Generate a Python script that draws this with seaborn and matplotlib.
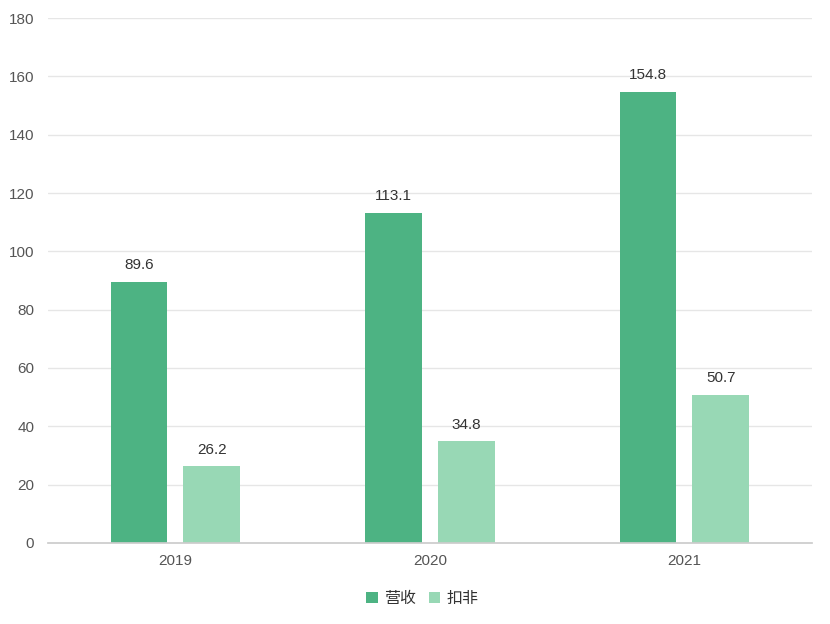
import matplotlib
matplotlib.use('Agg')
import matplotlib.pyplot as plt
import seaborn as sns
import pandas as pd

years = ['2019', '2020', '2021']
revenue = [89.6, 113.1, 154.8]
deducted = [26.2, 34.8, 50.7]
series_names = ['营收', '扣非']

df = pd.DataFrame({
    'year': years * 2,
    'value': revenue + deducted,
    'series': [series_names[0]] * 3 + [series_names[1]] * 3,
})

sns.set_theme(style='white')
plt.rcParams['font.family'] = ['Liberation Sans', 'Noto Sans CJK SC', 'DejaVu Sans']

fig = plt.figure(figsize=(8.3, 6.24), dpi=100)
ax = fig.add_axes([0.058, 0.13, 0.92, 0.841])

palette = {'营收': '#4db383', '扣非': '#98d8b5'}
sns.barplot(data=df, x='year', y='value', hue='series', palette=palette,
            width=0.573, gap=0.22, ax=ax, saturation=1, legend=True,
            linewidth=0)

for cont in ax.containers:
    ax.bar_label(cont, fmt='%.1f', padding=7, fontsize=11, color='#333333')

ax.set_ylim(0, 180)
ax.set_yticks(range(0, 181, 20))
ax.set_xlim(-0.5, 2.5)
ax.grid(axis='y', color='#e6e6e6', linewidth=1)
ax.set_axisbelow(True)
for s in ['left', 'right', 'top']:
    ax.spines[s].set_visible(False)
ax.spines['bottom'].set_color('#cccccc')
ax.tick_params(axis='both', length=0, labelsize=11, labelcolor='#555555')
ax.tick_params(axis='y', pad=10)
ax.tick_params(axis='x', pad=8)
ax.set_xlabel('')
ax.set_ylabel('')

handles, labels = ax.get_legend_handles_labels()
ax.legend(handles, labels, loc='upper center', bbox_to_anchor=(0.49, -0.065),
          ncol=2, frameon=False, fontsize=11.5, handlelength=0.7, handleheight=0.7,
          handletextpad=0.4, columnspacing=0.8, labelcolor='#333333')

fig.savefig('out.png', dpi=100)
